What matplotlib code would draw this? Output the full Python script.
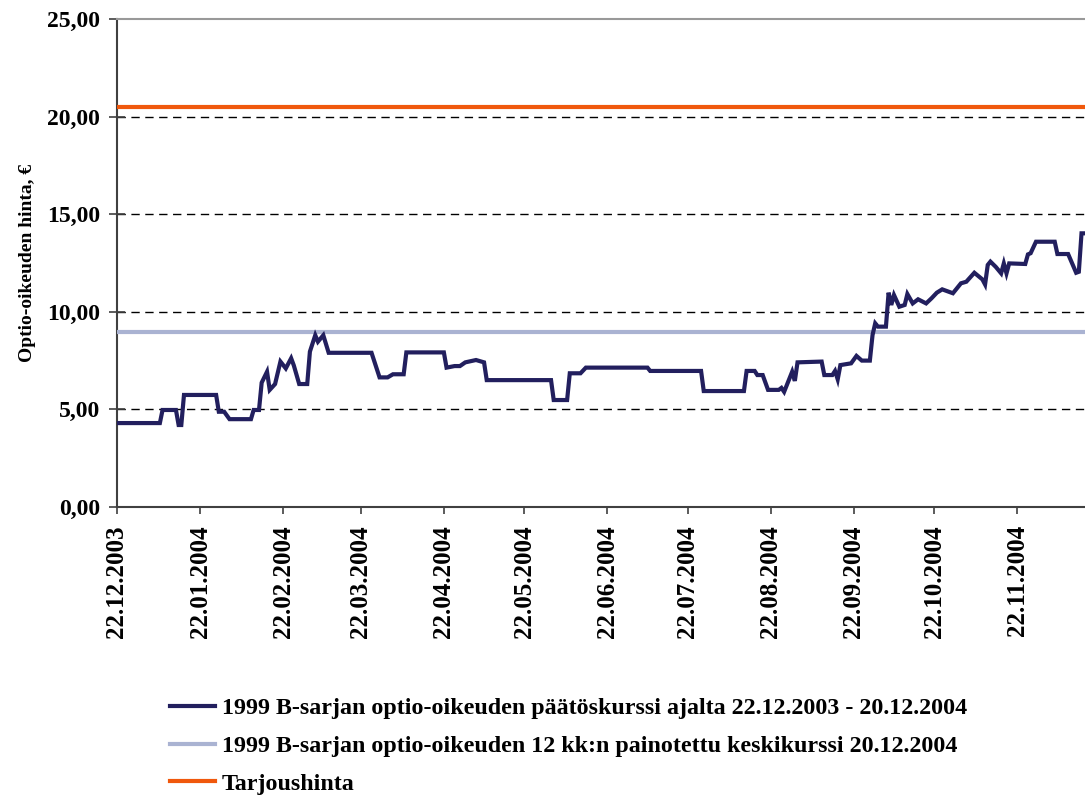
import matplotlib
matplotlib.use("Agg")
import matplotlib.pyplot as plt
import matplotlib.dates as mdates
import pandas as pd
from matplotlib.ticker import FuncFormatter, MultipleLocator

plt.rcParams['font.family'] = ['Liberation Serif', 'DejaVu Serif']
plt.rcParams['font.weight'] = 'bold'

# closing price of the 1999 B option (breakpoints)
price_dates = [
    "2003-12-22", "2004-01-07", "2004-01-08", "2004-01-13", "2004-01-14", "2004-01-15",
    "2004-01-16", "2004-01-28", "2004-01-29", "2004-01-31", "2004-02-02", "2004-02-10",
    "2004-02-11", "2004-02-13", "2004-02-14", "2004-02-16", "2004-02-17", "2004-02-19",
    "2004-02-21", "2004-02-23", "2004-02-25", "2004-02-26", "2004-02-28", "2004-03-02",
    "2004-03-03", "2004-03-05", "2004-03-06", "2004-03-08", "2004-03-10", "2004-03-26",
    "2004-03-29", "2004-04-01", "2004-04-03", "2004-04-07", "2004-04-08", "2004-04-22",
    "2004-04-23", "2004-04-26", "2004-04-28", "2004-04-30", "2004-05-04", "2004-05-07",
    "2004-05-08", "2004-06-01", "2004-06-02", "2004-06-07", "2004-06-08", "2004-06-12",
    "2004-06-14", "2004-07-07", "2004-07-08", "2004-07-27", "2004-07-28", "2004-08-12",
    "2004-08-13", "2004-08-16", "2004-08-17", "2004-08-19", "2004-08-21", "2004-08-25",
    "2004-08-26", "2004-08-27", "2004-08-30", "2004-08-31", "2004-09-01", "2004-09-10",
    "2004-09-11", "2004-09-14", "2004-09-15", "2004-09-16", "2004-09-17", "2004-09-21",
    "2004-09-23", "2004-09-25", "2004-09-28", "2004-09-29", "2004-09-30", "2004-10-01",
    "2004-10-04", "2004-10-05", "2004-10-06", "2004-10-07", "2004-10-09", "2004-10-11",
    "2004-10-12", "2004-10-14", "2004-10-16", "2004-10-19", "2004-10-21", "2004-10-23",
    "2004-10-25", "2004-10-29", "2004-11-01", "2004-11-03", "2004-11-06", "2004-11-09",
    "2004-11-10", "2004-11-11", "2004-11-12", "2004-11-14", "2004-11-16", "2004-11-17",
    "2004-11-18", "2004-11-19", "2004-11-25", "2004-11-26", "2004-11-27", "2004-11-29",
    "2004-12-06", "2004-12-07", "2004-12-11", "2004-12-14", "2004-12-15", "2004-12-16",
    "2004-12-20",
]
price_values = [
    4.30, 4.30, 4.97, 4.97, 4.20, 4.20,
    5.74, 5.74, 4.88, 4.88, 4.50, 4.50,
    4.97, 4.97, 6.37, 6.93, 6.00, 6.30,
    7.45, 7.10, 7.62, 7.25, 6.30, 6.30,
    7.96, 8.80, 8.47, 8.80, 7.90, 7.90,
    6.64, 6.64, 6.80, 6.80, 7.92, 7.92,
    7.14, 7.22, 7.22, 7.41, 7.53, 7.41,
    6.50, 6.50, 5.48, 5.48, 6.85, 6.85,
    7.14, 7.14, 6.97, 6.97, 5.94, 5.94,
    6.97, 6.97, 6.76, 6.76, 6.00, 6.00,
    6.10, 5.90, 6.93, 6.46, 7.41, 7.45,
    6.76, 6.76, 6.97, 6.54, 7.27, 7.36,
    7.74, 7.50, 7.50, 8.81, 9.41, 9.24,
    9.24, 10.98, 10.35, 10.86, 10.26, 10.35,
    10.91, 10.43, 10.64, 10.43, 10.69, 10.98,
    11.15, 10.95, 11.46, 11.54, 12.00, 11.66,
    11.40, 12.40, 12.57, 12.30, 11.97, 12.48,
    11.97, 12.48, 12.45, 12.94, 13.00, 13.59,
    13.59, 12.96, 12.96, 12.00, 12.05, 14.02,
    14.02,
]
avg_price = 8.97      # 12 kk:n painotettu keskikurssi
offer_price = 20.50   # Tarjoushinta

tick_dates = ["2003-12-22", "2004-01-22", "2004-02-22", "2004-03-22", "2004-04-22",
              "2004-05-22", "2004-06-22", "2004-07-22", "2004-08-22", "2004-09-22",
              "2004-10-22", "2004-11-22"]

labels = [
    "1999 B-sarjan optio-oikeuden päätöskurssi ajalta 22.12.2003 - 20.12.2004",
    "1999 B-sarjan optio-oikeuden 12 kk:n painotettu keskikurssi 20.12.2004",
    "Tarjoushinta",
]

navy = "#221f5e"
lightblue = "#aab3d2"
orange = "#f0580c"

x = pd.to_datetime(price_dates)
start = pd.Timestamp("2003-12-22")
end = start + pd.Timedelta(days=361.3)

fig = plt.figure(figsize=(10.85, 7.96), dpi=100)
ax = fig.add_axes([117 / 1085, 1 - 507 / 796, 1 - 117 / 1085, (507 - 19) / 796])

for y in [5, 10, 15, 20]:
    ax.axhline(y, color="black", lw=1.0, ls=(0, (6, 4)), zorder=1)

l1, = ax.plot(x, price_values, color=navy, lw=3.0, zorder=4, solid_joinstyle="miter")
l2 = ax.axhline(avg_price, color=lightblue, lw=3.0, zorder=3)
l3 = ax.axhline(offer_price, color=orange, lw=3.0, zorder=3)

ax.set_xlim(start, end)
ax.set_ylim(0, 25)
ax.yaxis.set_major_locator(MultipleLocator(5))
ax.yaxis.set_major_formatter(FuncFormatter(lambda v, p: f"{v:.2f}".replace(".", ",")))
ax.set_xticks(pd.to_datetime(tick_dates))
ax.xaxis.set_major_formatter(mdates.DateFormatter("%d.%m.%Y"))

ax.tick_params(axis="y", direction="inout", length=12, width=1.2, color="#404040",
               labelsize=17, pad=6)
ax.tick_params(axis="x", direction="out", length=5, width=1.2, color="#404040",
               labelsize=18, labelrotation=90, pad=8)
for lab in ax.get_xticklabels() + ax.get_yticklabels():
    lab.set_fontweight("bold")

ax.spines["left"].set_color("#404040")
ax.spines["left"].set_linewidth(1.5)
ax.spines["bottom"].set_color("#404040")
ax.spines["bottom"].set_linewidth(1.5)
ax.spines["top"].set_color("#999999")
ax.spines["top"].set_linewidth(1.5)
ax.spines["right"].set_visible(False)

ax.set_ylabel("Optio-oikeuden hinta, €", fontsize=14, fontweight="bold", labelpad=8)

fig.legend([l1, l2, l3], labels, loc="upper left", bbox_to_anchor=(148 / 1085, 1 - 676 / 796),
           frameon=False, handlelength=1.87, handletextpad=0.3,
           labelspacing=0.66, prop={"weight": "bold", "size": 17.3})

fig.savefig("out.png", dpi=100)
